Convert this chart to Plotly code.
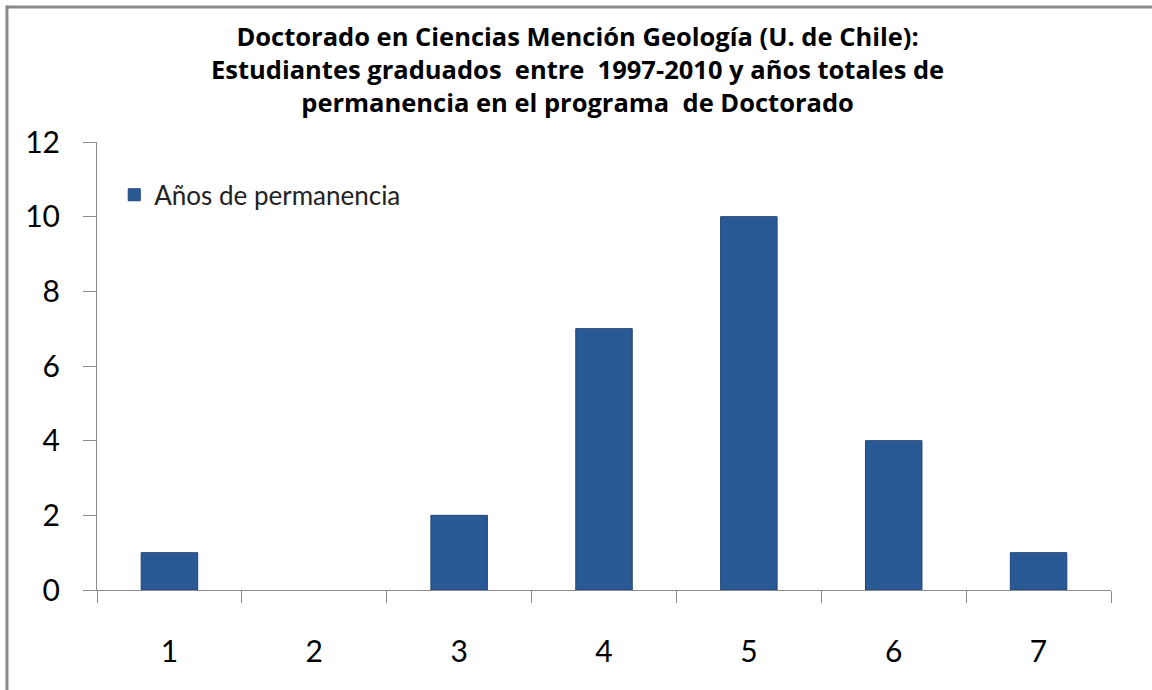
import plotly.graph_objects as go

categories = ["1", "2", "3", "4", "5", "6", "7"]
values = [1, 0, 2, 7, 10, 4, 1]
y_ticks = [0, 2, 4, 6, 8, 10, 12]
series_name = "Años de permanencia"
title_lines = [
    "Doctorado en Ciencias Mención Geología (U. de Chile):",
    "Estudiantes graduados  entre  1997-2010 y años totales de",
    "permanencia en el programa  de Doctorado",
]

FONT = "Lato, Open Sans, sans-serif"
TFONT = "Open Sans, Lato, sans-serif"

outline_widths = [1 if v > 0 else 0 for v in values]

fig = go.Figure()
fig.add_trace(go.Bar(
    x=categories, y=values, name=series_name,
    marker=dict(color="#2A5A96", line=dict(color="#1F4678", width=outline_widths)),
    showlegend=True,
))

fig.update_layout(
    width=1152, height=690,
    paper_bgcolor="white", plot_bgcolor="white",
    margin=dict(l=97, r=41, t=142, b=100),
    bargap=0.61,
    font=dict(family=FONT, color="#000000"),
    showlegend=True,
    legend=dict(
        x=0.017, y=0.882, xanchor="left", yanchor="middle",
        font=dict(size=26, family=FONT, color="#222"),
        bgcolor="rgba(0,0,0,0)", itemwidth=30,
    ),
    xaxis=dict(
        type="category", showgrid=False, showline=True, linecolor="#8C8C8C", linewidth=1,
        ticks="outside", ticklen=12, tickcolor="#8C8C8C", tickson="boundaries",
        tickfont=dict(size=30, family=FONT, color="#000"),
        ticklabelstandoff=35,
    ),
    yaxis=dict(
        range=[0, 12], tickvals=y_ticks, showgrid=False, zeroline=False,
        showline=True, linecolor="#8C8C8C", linewidth=1,
        ticks="outside", ticklen=13, tickcolor="#8C8C8C",
        tickfont=dict(size=30, family=FONT, color="#000"),
        ticklabelstandoff=17,
    ),
    annotations=[dict(
        text="<b>" + "<br>".join(title_lines) + "</b>",
        xref="paper", yref="paper", x=0.474, y=1.279,
        xanchor="center", yanchor="top", showarrow=False, align="center",
        font=dict(size=25.5, family=TFONT, color="#000"),
    )],
    shapes=[
        dict(type="line", xref="paper", yref="paper", x0=-0.0888, x1=1.05, y0=1.3013, y1=1.3013,
             line=dict(color="#8A8A8A", width=3)),
        dict(type="line", xref="paper", yref="paper", x0=-0.0888, x1=-0.0888, y0=-0.3, y1=1.3046,
             line=dict(color="#8A8A8A", width=3)),
    ],
)

fig.write_html("out.html", post_script="document.body.style.margin='0';",
               config={"displayModeBar": False})
